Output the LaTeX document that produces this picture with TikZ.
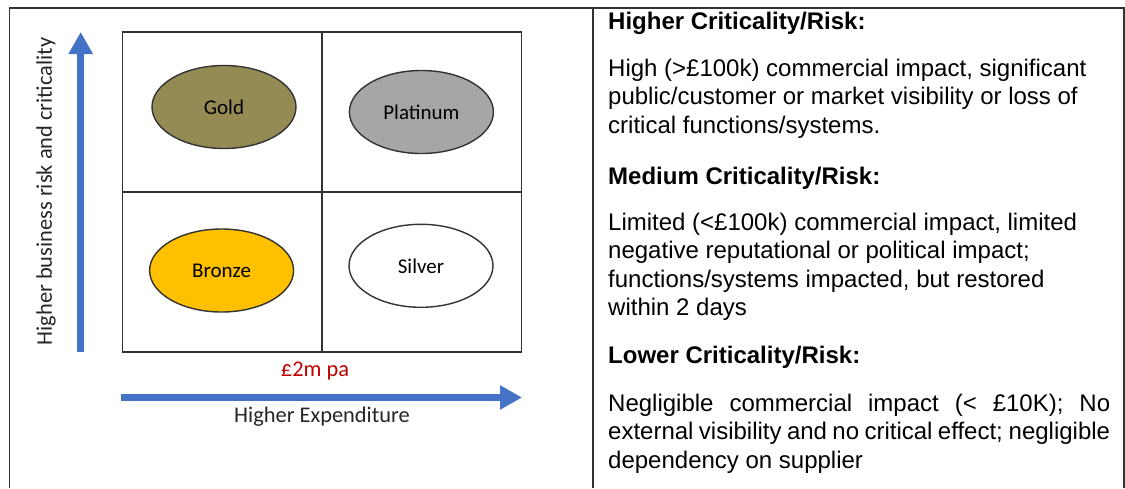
\documentclass[tikz,border=0pt]{standalone}
\usepackage{fontspec}
\setmainfont{Liberation Sans}
\newfontfamily\calfont{Carlito}
\usetikzlibrary{arrows.meta,shapes.geometric}
\definecolor{blueA}{HTML}{4472C4}
\definecolor{goldF}{HTML}{948A54}
\definecolor{platF}{HTML}{A6A6A6}
\definecolor{bronzeF}{HTML}{FFC000}
\definecolor{costR}{HTML}{C00000}
\definecolor{lineD}{HTML}{333333}
\definecolor{txtD}{HTML}{262626}
\tikzset{
  frame/.style={draw=lineD, line width=1.3pt},
  gridline/.style={draw=lineD, line width=1.4pt},
  ell/.style={ellipse, draw=lineD, line width=1.4pt, minimum width=144pt, minimum height=83pt, inner sep=0pt,
    font=\calfont\fontsize{21}{24}\selectfont, text=black},
  bluearrow/.style={draw=blueA, line width=7pt, -{Triangle[length=22pt,width=23pt]}},
  axlab/.style={font=\calfont\fontsize{22.4}{26}\selectfont, text=txtD, inner sep=0pt},
  headtxt/.style={font=\bfseries\fontsize{24}{28}\selectfont, anchor=base west, inner sep=0pt},
  bodytxt/.style={font=\fontsize{24}{28}\selectfont, anchor=base west, inner sep=0pt}
}
\begin{document}
\begin{tikzpicture}[x=1pt,y=-1pt]
\useasboundingbox (0,0) rectangle (1125,488);
% table frame
\draw[frame] (9.5,488) -- (9.5,8) -- (1124,8) -- (1124,488);
\draw[frame] (593,8) -- (593,488);
% quadrant grid
\draw[gridline] (122.5,32) rectangle (521.5,352);
\draw[gridline] (322,32) -- (322,352);
\draw[gridline] (122.5,192) -- (521.5,192);
% ellipses
\node[ell, fill=goldF] (gold) at (224,107) {Gold};
\node[ell, fill=platF] (plat) at (421.4,112) {Platinum};
\node[ell, fill=bronzeF] (bronze) at (221.6,270.5) {Bronze};
\node[ell, fill=white] (silver) at (421,265.8) {Silver};
% axes
\coordinate (vs) at (80.7,352);
\coordinate (ve) at (80.7,32);
\draw[bluearrow] (vs) -- (ve);
\coordinate (hs) at (121,397.5);
\coordinate (he) at (522,397.5);
\draw[bluearrow] (hs) -- (he);
\node[axlab, rotate=90] (ylab) at (46,191.5) {Higher business risk and criticality};
\node[axlab, text=costR] (cost) at (315,371) {£2m pa};
\node[axlab] (xlab) at (322,417) {Higher Expenditure};
% right column text
\node[headtxt] (h1) at (608,29.5) {Higher Criticality/Risk:};
\node[bodytxt] (b11) at (608,76) {High (>£100k) commercial impact, significant};
\node[bodytxt] (b12) at (608,104.5) {public/customer or market visibility or loss of};
\node[bodytxt] (b13) at (608,133) {critical functions/systems.};
\node[headtxt] (h2) at (608,184) {Medium Criticality/Risk:};
\node[bodytxt] (b21) at (608,230) {Limited (<£100k) commercial impact, limited};
\node[bodytxt] (b22) at (608,258.5) {negative reputational or political impact;};
\node[bodytxt] (b23) at (608,287) {functions/systems impacted, but restored};
\node[bodytxt] (b24) at (608,315) {within 2 days};
\node[headtxt] (h3) at (608,363) {Lower Criticality/Risk:};
\node[bodytxt] (b31) at (608,411) {\makebox[502pt][s]{Negligible commercial impact (< £10K); No}};
\node[bodytxt] (b32) at (608,439.5) {\makebox[502pt][s]{external visibility and no critical effect; negligible}};
\node[bodytxt] (b33) at (608,468) {dependency on supplier};
\end{tikzpicture}
\end{document}
